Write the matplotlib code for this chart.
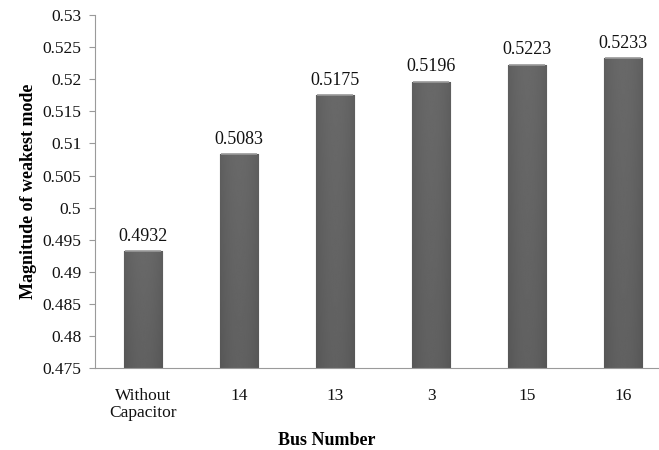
import numpy as np
import matplotlib.pyplot as plt

buses = ["Without\nCapacitor", "14", "13", "3", "15", "16"]
magnitude = [0.4932, 0.5083, 0.5175, 0.5196, 0.5223, 0.5233]

plt.rcParams['font.family'] = ['Liberation Serif', 'DejaVu Serif']

fig = plt.figure(figsize=(6.59, 4.5), dpi=100)
ax = fig.add_axes([0.1442, 0.182, 0.874, 0.7844])

ymin, ymax = 0.475, 0.53
x = np.arange(len(buses))
bars = ax.bar(x, [m - ymin for m in magnitude], bottom=ymin, width=0.4,
              facecolor='#555555', edgecolor='#3c3c3c', linewidth=0.8, zorder=2)

# soft shading across each bar, darker toward the sides and the base
gx = np.linspace(-1, 1, 64)
gy = np.linspace(0, 1, 64)
GX, GY = np.meshgrid(gx, gy)
shade = 0.34 + 0.04 * (1 - GX**2) + 0.03 * GY
for b in bars:
    x0, y0 = b.get_x(), b.get_y()
    w, h = b.get_width(), b.get_height()
    im = ax.imshow(shade, cmap='gray', vmin=0, vmax=1, origin='lower',
                   extent=[x0, x0 + w, y0, y0 + h], aspect='auto',
                   interpolation='bilinear', zorder=2.5)
    im.set_clip_path(b)
    ax.plot([x0 + 0.01, x0 + w - 0.01], [y0 + h, y0 + h], color='#9a9a9a',
            lw=1.2, zorder=3, solid_capstyle='butt')
    ax.text(x0 + w / 2, y0 + h + 0.001, f"{y0 + h:.4f}", ha='center',
            va='bottom', fontsize=13, color='#111111')

ax.set_xlim(-0.5, len(buses) - 0.5)
ax.set_ylim(ymin, ymax)
ax.set_yticks(np.arange(0.475, 0.5301, 0.005))
ax.set_yticklabels(["0.475", "0.48", "0.485", "0.49", "0.495", "0.5", "0.505",
                    "0.51", "0.515", "0.52", "0.525", "0.53"])
ax.set_xticks(x)
ax.set_xticklabels(buses, linespacing=1.15)

for s in ['top', 'right']:
    ax.spines[s].set_visible(False)
for s in ['left', 'bottom']:
    ax.spines[s].set_color('#9a9a9a')
    ax.spines[s].set_linewidth(0.8)

ax.tick_params(axis='y', length=4, color='#9a9a9a', labelsize=12.5,
               labelcolor='#111111', pad=6)
ax.tick_params(axis='x', length=0, labelsize=12.5, labelcolor='#111111', pad=14)

ax.set_ylabel("Magnitude of weakest mode", fontsize=13, fontweight='bold',
              labelpad=4)
ax.set_xlabel("Bus Number", fontsize=13, fontweight='bold')
ax.xaxis.set_label_coords(0.402, -0.18)

fig.savefig("out.png", dpi=100)
